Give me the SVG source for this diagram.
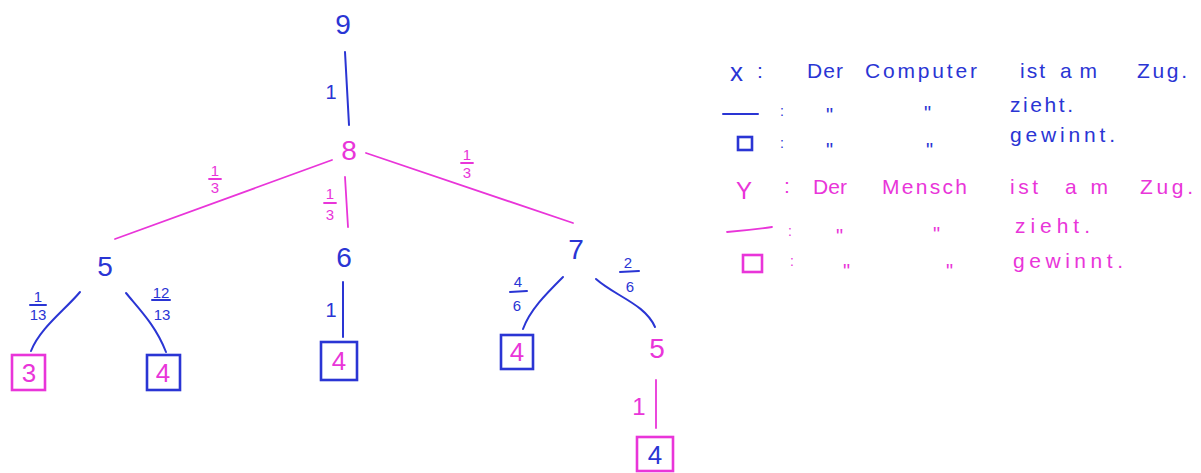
<svg xmlns="http://www.w3.org/2000/svg" width="1201" height="473" viewBox="0 0 1201 473">
<style>
.b{fill:#2a35d4}
.m{fill:#e935d9}
text{font-family:"Liberation Sans","DejaVu Sans",sans-serif;text-anchor:middle}
.node{font-size:28px}
.leaf{font-size:26px}
.lbl{font-size:20px}
.fr{font-size:15px}
.leg{font-size:21px;text-anchor:start}
.dit{font-size:20px}
.eb{stroke:#2a35d4;stroke-width:2;fill:none;stroke-linecap:round}
.em{stroke:#e935d9;stroke-width:1.8;fill:none;stroke-linecap:round}
.bxb{stroke:#2a35d4;stroke-width:2.6;fill:none}
.bxm{stroke:#e935d9;stroke-width:2.6;fill:none}
</style>
<rect width="1201" height="473" fill="#fff"/>
<g id="connectors">
  <path class="eb" d="M345,52 L349,125"/>
  <path class="em" d="M332,160 L115,239"/>
  <path class="em" d="M345,177 L348,227"/>
  <path class="em" d="M366,153 L573,223"/>
  <path class="eb" d="M80,292 C65,310 40,328 31,351"/>
  <path class="eb" d="M126,293 C140,310 156,326 166,352"/>
  <path class="eb" d="M343,282 L343,337"/>
  <path class="eb" d="M563,277 C545,295 530,310 523,329"/>
  <path class="eb" d="M596,279 C615,296 645,304 655,327"/>
  <path class="em" d="M656,380 L656,428"/>
  <!-- edge labels -->
  <text class="lbl b" x="331" y="99">1</text>
  <text class="fr m" x="215" y="176">1</text><path class="em" d="M209,179 L221,179" stroke-width="1"/><text class="fr m" x="215" y="193">3</text>
  <text class="fr m" x="330" y="199">1</text><path class="em" d="M324,203 L336,203" stroke-width="1"/><text class="fr m" x="330" y="220">3</text>
  <text class="fr m" x="467" y="160">1</text><path class="em" d="M461,163 L473,163" stroke-width="1"/><text class="fr m" x="467" y="178">3</text>
  <text class="fr b" x="38" y="302">1</text><path class="eb" d="M30,305 L46,305" stroke-width="1.3"/><text class="fr b" x="38" y="320">13</text>
  <text class="fr b" x="161" y="298">12</text><path class="eb" d="M152,300 L170,300" stroke-width="1.3"/><text class="fr b" x="162" y="320">13</text>
  <text class="lbl b" x="331" y="317">1</text>
  <text class="fr b" x="518" y="287">4</text><path class="eb" d="M510,292 L527,291" stroke-width="1.3"/><text class="fr b" x="517" y="311">6</text>
  <text class="fr b" x="628" y="268">2</text><path class="eb" d="M620,272 L639,271" stroke-width="1.3"/><text class="fr b" x="630" y="292">6</text>
  <text class="lbl m" x="639" y="415" style="font-size:24px">1</text>
</g>
<g id="n9"><text class="node b" x="343" y="34">9</text></g>
<g id="n8"><text class="node m" x="349" y="160">8</text></g>
<g id="n5a"><text class="node b" x="105" y="276">5</text></g>
<g id="n6"><text class="node b" x="344" y="267">6</text></g>
<g id="n7"><text class="node b" x="576" y="259">7</text></g>
<g id="n5b"><text class="node m" x="657" y="358">5</text></g>
<g id="leaf3"><rect class="bxm" x="12" y="355" width="33" height="35"/><text class="leaf m" x="29" y="382">3</text></g>
<g id="leaf4a"><rect class="bxb" x="147" y="355" width="33" height="35"/><text class="leaf m" x="163" y="382">4</text></g>
<g id="leaf4b"><rect class="bxb" x="321" y="342" width="36" height="38"/><text class="leaf m" x="339" y="370">4</text></g>
<g id="leaf4c"><rect class="bxb" x="501" y="335" width="32" height="34"/><text class="leaf m" x="517" y="361">4</text></g>
<g id="leaf4d"><rect class="bxm" x="637" y="437" width="36" height="34"/><text class="leaf b" x="655" y="464">4</text></g>
<g id="legend">
  <text class="leg b" x="730" y="81" style="font-size:26px">x</text>
  <text class="leg b" x="757" y="78">:</text>
  <text class="leg b" x="807" y="78" textLength="36">Der</text>
  <text class="leg b" x="865" y="78" textLength="112">Computer</text>
  <text class="leg b" x="1020" y="78" textLength="25">ist</text>
  <text class="leg b" x="1060" y="78" textLength="37">am</text>
  <text class="leg b" x="1137" y="78" textLength="50">Zug.</text>
  <path class="eb" d="M723,114 L758,114" stroke-width="1.6"/>
  <text class="leg b" x="780" y="116" style="font-size:14px">:</text>
  <text class="leg b dit" x="826" y="122">"</text>
  <text class="leg b dit" x="924" y="120">"</text>
  <text class="leg b" x="1010" y="112" textLength="63">zieht.</text>
  <rect class="bxb" x="738" y="137" width="14" height="13" stroke-width="2.2"/>
  <text class="leg b" x="780" y="148" style="font-size:14px">:</text>
  <text class="leg b dit" x="826" y="157">"</text>
  <text class="leg b dit" x="926" y="157">"</text>
  <text class="leg b" x="1010" y="142" textLength="105">gewinnt.</text>
  <text class="leg m" x="736" y="199" style="font-size:24px">Y</text>
  <text class="leg m" x="784" y="193">:</text>
  <text class="leg m" x="813" y="194" textLength="34">Der</text>
  <text class="leg m" x="882" y="194" textLength="85">Mensch</text>
  <text class="leg m" x="1010" y="194" textLength="28">ist</text>
  <text class="leg m" x="1065" y="194" textLength="43">am</text>
  <text class="leg m" x="1140" y="194" textLength="53">Zug.</text>
  <path class="em" d="M727,232 Q750,230 772,227" stroke-width="1.6"/>
  <text class="leg m" x="788" y="236" style="font-size:14px">:</text>
  <text class="leg m dit" x="836" y="243">"</text>
  <text class="leg m dit" x="933" y="241">"</text>
  <text class="leg m" x="1015" y="233" textLength="75">zieht.</text>
  <rect class="bxm" x="743" y="255" width="19" height="17" stroke-width="2.2"/>
  <text class="leg m" x="790" y="266" style="font-size:14px">:</text>
  <text class="leg m dit" x="843" y="278">"</text>
  <text class="leg m dit" x="946" y="278">"</text>
  <text class="leg m" x="1013" y="268" textLength="110">gewinnt.</text>
</g>
</svg>
